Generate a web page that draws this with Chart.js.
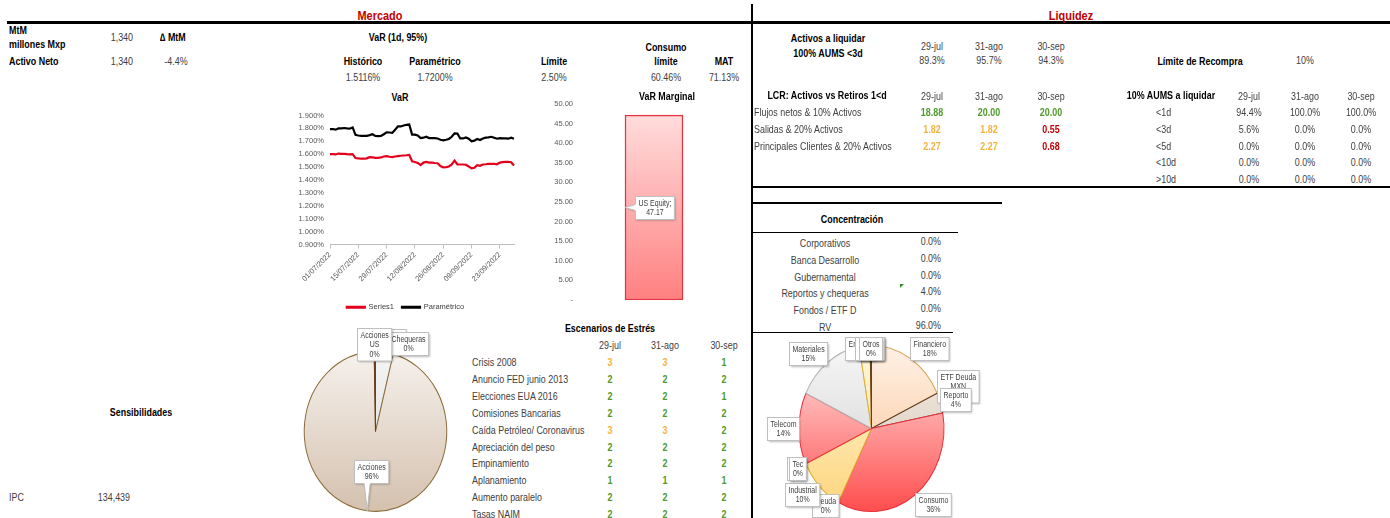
<!DOCTYPE html>
<html lang="es">
<head>
<meta charset="utf-8">
<title>Mercado y Liquidez</title>
<script src="https://cdn.jsdelivr.net/npm/chart.js@4.4.1/dist/chart.umd.min.js"></script>
<style>
  body { margin: 0; background: #fff; }
  #board { position: relative; width: 1390px; height: 518px; overflow: hidden;
    font-family: "Liberation Sans", Arial, sans-serif;
    font-size: 11px; color: #404040; }
  .t { position: absolute; white-space: nowrap; line-height: 14px; transform-origin: left center; transform: scaleX(0.81); }
  .b { font-weight: bold; color: #000; }
  .c { transform-origin: center center; transform: translateX(-50%) scaleX(0.81); }
  .r { transform-origin: right center; transform: translateX(-100%) scaleX(0.81); }
  .h { font-weight: bold; color: #c00000; font-size: 13.5px; }
  .ln { position: absolute; background: #000; }
  canvas { position: absolute; }
  .mark { position: absolute; width: 0; height: 0; border-left: 4px solid #2e8b2e; border-bottom: 4px solid transparent; }
</style>
</head>
<body>
<div id="board">
  <canvas id="chart-var" width="228" height="216" style="left:297px;top:105px"></canvas>
  <canvas id="chart-marginal" width="212" height="216" style="left:538px;top:94px"></canvas>
  <canvas id="chart-mkt-pie" width="180" height="191" style="left:290px;top:327px"></canvas>
  <canvas id="chart-sector-pie" width="250" height="182" style="left:755px;top:336px"></canvas>
</div>
<script>
  const FONT = '"Liberation Sans", Arial, sans-serif';
  const SQ = 0.82; // texto angosto en etiquetas
  const RED = '#e2001a', AXIS = '#bfbfbf', TICK = '#595959';
  const GREEN = '#4e9a2a', ORANGE = '#f4b23e', DARKRED = '#c00000';

  // ---- datos ----
  const varDates = [
    '01/07/2022', '04/07/2022', '05/07/2022', '06/07/2022', '07/07/2022', '08/07/2022', '11/07/2022', '12/07/2022',
    '13/07/2022', '14/07/2022', '15/07/2022', '18/07/2022', '19/07/2022', '20/07/2022', '21/07/2022', '22/07/2022',
    '25/07/2022', '26/07/2022', '27/07/2022', '28/07/2022', '29/07/2022',
    '01/08/2022', '02/08/2022', '03/08/2022', '04/08/2022', '05/08/2022', '08/08/2022', '09/08/2022', '10/08/2022',
    '11/08/2022', '12/08/2022', '15/08/2022', '16/08/2022', '17/08/2022', '18/08/2022', '19/08/2022', '22/08/2022',
    '23/08/2022', '24/08/2022', '25/08/2022', '26/08/2022', '29/08/2022', '30/08/2022', '31/08/2022',
    '01/09/2022', '02/09/2022', '05/09/2022', '06/09/2022', '07/09/2022', '08/09/2022', '09/09/2022', '12/09/2022',
    '13/09/2022', '14/09/2022', '15/09/2022', '16/09/2022', '19/09/2022', '20/09/2022', '21/09/2022', '22/09/2022',
    '23/09/2022', '26/09/2022', '27/09/2022', '28/09/2022', '29/09/2022', '30/09/2022'
  ];
  const varHistorico = [
    1.600, 1.600, 1.598, 1.605, 1.602, 1.603, 1.600, 1.598, 1.600, 1.570,
    1.568, 1.565, 1.565, 1.568, 1.578, 1.575, 1.572, 1.572, 1.575, 1.582,
    1.585, 1.580, 1.578, 1.582, 1.585, 1.588, 1.590, 1.592, 1.595, 1.545,
    1.540, 1.532, 1.515, 1.535, 1.540, 1.535, 1.535, 1.532, 1.530, 1.508,
    1.498, 1.500, 1.505, 1.520, 1.550, 1.520, 1.520, 1.520, 1.518, 1.505,
    1.490, 1.495, 1.515, 1.510, 1.520, 1.522, 1.525, 1.525, 1.525, 1.522,
    1.535, 1.538, 1.540, 1.540, 1.538, 1.512
  ];
  const varParametrico = [
    1.795, 1.795, 1.790, 1.800, 1.800, 1.803, 1.800, 1.798, 1.808, 1.750,
    1.745, 1.742, 1.742, 1.742, 1.748, 1.755, 1.742, 1.740, 1.742, 1.755,
    1.770, 1.768, 1.765, 1.790, 1.815, 1.815, 1.822, 1.828, 1.830, 1.752,
    1.752, 1.745, 1.725, 1.728, 1.735, 1.725, 1.725, 1.725, 1.722, 1.712,
    1.708, 1.712, 1.718, 1.735, 1.762, 1.760, 1.722, 1.722, 1.730, 1.720,
    1.700, 1.705, 1.718, 1.710, 1.722, 1.728, 1.730, 1.735, 1.728, 1.720,
    1.725, 1.722, 1.722, 1.720, 1.728, 1.720
  ];
  const varHeaders = ['Histórico', 'Paramétrico', 'Límite', 'Consumo\nlímite', 'MAT'];
  const varSummary = ['1.5116%', '1.7200%', '2.50%', '60.46%', '71.13%'];

  const marginalLabels = ['US Equity'];
  const marginalValues = [47.17];

  const mktPieLabels = ['Reporto', 'Chequeras', 'Acciones', 'Acciones US'];
  const mktPieValues = [4.0, 0, 95.7, 0.3];

  const liqDates = ['29-jul', '31-ago', '30-sep'];
  const aumsValues = [89.3, 95.7, 94.3];
  const lcrRows = ['Flujos netos & 10% Activos', 'Salidas & 20% Activos', 'Principales Clientes & 20% Activos'];
  const lcrValues = [[18.88, 20.00, 20.00], [1.82, 1.82, 0.55], [2.27, 2.27, 0.68]];
  const plazoRows = ['<1d', '<3d', '<5d', '<10d', '>10d'];
  const plazoValues = [[94.4, 100, 100], [5.6, 0, 0], [0, 0, 0], [0, 0, 0], [0, 0, 0]];

  const concRows = ['Corporativos', 'Banca Desarrollo', 'Gubernamental', 'Reportos y chequeras', 'Fondos / ETF D', 'RV'];
  const concValues = [0, 0, 0, 4.0, 0, 96.0];

  const sectorLabels = ['Fibras', 'Financiero', 'ETF Deuda MXN', 'Reporto', 'Consumo', 'Deuda', 'Industrial',
    'ETF', 'Tec', 'Telecom', 'Materiales', 'Energía', 'Bancos', 'Otros'];
  const sectorValues = [0, 18, 0, 4, 35.6, 0, 10.4, 0, 0, 14, 15.3, 2.4, 0, 0.3];

  const stressRows = ['Crisis 2008', 'Anuncio FED junio 2013', 'Elecciones EUA 2016', 'Comisiones Bancarias',
    'Caída Petróleo/ Coronavirus', 'Apreciación del peso', 'Empinamiento', 'Aplanamiento', 'Aumento paralelo', 'Tasas NAIM'];
  const stressValues = [[3, 3, 1], [2, 2, 2], [2, 2, 1], [2, 2, 2], [3, 3, 2], [2, 2, 2], [2, 2, 2], [1, 1, 1], [2, 2, 2], [2, 2, 2]];

  // ---- estilos de pies ----
  const DK = '#6b3e1e';
  const mktFills = [['#f5f5f5', '#d6d6d6'], '#d9d9d9', ['#f6f1ed', '#d4c1ae'], DK];
  const mktBorders = ['#a6a6a6', '#a6a6a6', '#8c6d3a', DK];
  const sectorFills = [DK, ['#fff1e6', '#f8bf8c'], DK, ['#f3ece5', '#d5c4b3'], ['#ffe6e6', '#ff4d4d'], DK,
    ['#fff8e0', '#fdd47a'], DK, DK, ['#ffe6e6', '#ff4d4d'], ['#f6f6f6', '#cdcdcd'], ['#fff8e0', '#fdd47a'], DK, DK];
  const sectorBorders = [DK, '#d8a458', DK, '#5c3b1e', '#e8323c', DK, '#e0ac2e', DK, DK, '#e8323c', '#b5b5b5', '#e0ac2e', DK, DK];

  // ---- texto html ----
  const board = document.getElementById('board');
  function put(text, x, y, cls) {
    const d = document.createElement('div');
    d.className = 't ' + (cls || '');
    d.style.left = x + 'px';
    d.style.top = (y - 7) + 'px';
    d.textContent = text;
    board.appendChild(d);
    return d;
  }
  function line(x, y, w, h) {
    const d = document.createElement('div');
    d.className = 'ln';
    Object.assign(d.style, { left: x + 'px', top: y + 'px', width: w + 'px', height: h + 'px' });
    board.appendChild(d);
  }
  const pct1 = v => v.toFixed(1) + '%';

  line(7, 21, 1383, 3);
  line(751, 4, 2, 514);
  line(752, 186, 638, 2);
  line(752, 202, 250, 2);
  line(752, 232, 206, 1);
  line(752, 332, 201, 1);

  put('Mercado', 380, 16, 'h c');
  put('Liquidez', 1071, 16, 'h c');

  put('MtM', 9, 30, 'b');
  put('millones Mxp', 9, 44, 'b');
  put('1,340', 133, 37, 'r');
  put('\u2206 MtM', 160, 37, 'b');
  put('Activo Neto', 9, 61, 'b');
  put('1,340', 133, 61, 'r');
  put('-4.4%', 176, 61, 'c');

  put('VaR (1d, 95%)', 398, 37, 'b c');
  const varCols = [363, 435, 554, 666, 724];
  varHeaders.forEach((h, i) => {
    const parts = h.split('\n');
    parts.forEach((p, j) => put(p, varCols[i], 61 - (parts.length - 1 - j) * 14, 'b c'));
    put(varSummary[i], varCols[i], 77, 'c');
  });
  put('VaR', 400, 97, 'b c');
  put('VaR Marginal', 667, 96, 'b c');

  // liquidez
  const liqCols = [932, 989, 1051];
  put('Activos a liquidar', 828, 38, 'b c');
  put('100% AUMS <3d', 828, 53, 'b c');
  liqDates.forEach((d, i) => {
    put(d, liqCols[i], 46, 'c');
    put(pct1(aumsValues[i]), liqCols[i], 60, 'c');
  });
  put('Límite de Recompra', 1200, 61, 'b c');
  put('10%', 1305, 60, 'c');

  put('LCR: Activos vs Retiros 1<d', 827, 95, 'b c');
  liqDates.forEach((d, i) => put(d, liqCols[i], 96, 'c'));
  const lcrColor = v => v >= 10 ? GREEN : v >= 1 ? ORANGE : DARKRED;
  lcrRows.forEach((r, i) => {
    const y = 112 + i * 17;
    put(r, 754, y, '');
    lcrValues[i].forEach((v, j) => {
      const d = put(v.toFixed(2), liqCols[j], y, 'b c');
      d.style.color = lcrColor(v);
    });
  });

  const plazoCols = [1249, 1305, 1361];
  put('10% AUMS a liquidar', 1171, 95, 'b c');
  liqDates.forEach((d, i) => put(d, plazoCols[i], 96, 'c'));
  plazoRows.forEach((r, i) => {
    const y = 112 + i * 16.8;
    put(r, 1156, y, '');
    plazoValues[i].forEach((v, j) => put(pct1(v), plazoCols[j], y, 'c'));
  });

  // concentracion
  put('Concentración', 852, 219, 'b c');
  concRows.forEach((r, i) => {
    const y = 243 + i * 16.8;
    put(r, 825, y, 'c');
    put(pct1(concValues[i]), 941, y - 2, 'r');
  });
  const mk = document.createElement('div');
  mk.className = 'mark';
  mk.style.left = '900px'; mk.style.top = '284px';
  board.appendChild(mk);

  // escenarios
  const stressCols = [610, 665, 724];
  put('Escenarios de Estrés', 610, 328, 'b c');
  liqDates.forEach((d, i) => put(d, stressCols[i], 345, 'c'));
  stressRows.forEach((r, i) => {
    const y = 362 + i * 16.9;
    put(r, 472, y, '');
    stressValues[i].forEach((v, j) => {
      const d = put(String(v), stressCols[j], y, 'b c');
      d.style.color = v >= 3 ? ORANGE : GREEN;
    });
  });

  put('Sensibilidades', 141, 412, 'b c');
  put('IPC', 9, 497, '');
  put('134,439', 130, 497, 'r');

  // ---- chart.js ----
  Chart.defaults.font.family = FONT;
  Chart.defaults.animation = false;
  Chart.defaults.plugins.tooltip.enabled = false;

  const tw = (ctx, s) => ctx.measureText(s).width * SQ;

  function wrap(ctx, text, maxW) {
    const out = [];
    let cur = '';
    for (const w of text.split(' ')) {
      const t = cur ? cur + ' ' + w : w;
      if (cur && tw(ctx, t) > maxW) { out.push(cur); cur = w; } else cur = t;
    }
    out.push(cur);
    return out;
  }

  function boxSize(ctx, lines) {
    return { w: Math.max(...lines.map(l => tw(ctx, l))) + 6, h: lines.length * 9.5 + 4 };
  }

  // etiqueta tipo globo (callout) como en excel
  function callout(ctx, lines, cx, cy, tx, ty, bounds) {
    const { w, h } = boxSize(ctx, lines);
    let x0 = Math.min(Math.max(cx - w / 2, bounds.left), bounds.right - w);
    let y0 = Math.min(Math.max(cy - h / 2, bounds.top), bounds.bottom - h);
    x0 = Math.round(x0) + 0.5;
    y0 = Math.round(y0) + 0.5;
    let tail = null;
    const clamp = (v, a, b) => Math.max(a, Math.min(b, v));
    if (ty > y0 + h + 3) {
      const bx = clamp(tx, x0 + 5, x0 + w - 5);
      tail = [[bx - 3, y0 + h], [tx, ty], [bx + 3, y0 + h]];
    } else if (ty < y0 - 3) {
      const bx = clamp(tx, x0 + 5, x0 + w - 5);
      tail = [[bx - 3, y0], [tx, ty], [bx + 3, y0]];
    } else if (tx < x0 - 3) {
      const by = clamp(ty, y0 + 4, y0 + h - 4);
      tail = [[x0, by - 3], [tx, ty], [x0, by + 3]];
    } else if (tx > x0 + w + 3) {
      const by = clamp(ty, y0 + 4, y0 + h - 4);
      tail = [[x0 + w, by - 3], [tx, ty], [x0 + w, by + 3]];
    }
    ctx.save();
    ctx.shadowColor = 'rgba(0,0,0,0.28)';
    ctx.shadowBlur = 2;
    ctx.shadowOffsetX = 1;
    ctx.shadowOffsetY = 1;
    ctx.fillStyle = '#fff';
    ctx.beginPath();
    ctx.rect(x0, y0, w, h);
    if (tail) { ctx.moveTo(...tail[0]); ctx.lineTo(...tail[1]); ctx.lineTo(...tail[2]); ctx.closePath(); }
    ctx.fill();
    ctx.shadowColor = 'transparent';
    ctx.strokeStyle = '#bfbfbf';
    ctx.lineWidth = 1;
    ctx.strokeRect(x0, y0, w, h);
    if (tail) {
      ctx.beginPath();
      ctx.moveTo(...tail[0]); ctx.lineTo(...tail[1]); ctx.lineTo(...tail[2]);
      ctx.stroke();
      ctx.strokeStyle = '#fff';
      ctx.beginPath();
      ctx.moveTo(tail[0][0], tail[0][1]); ctx.lineTo(tail[2][0], tail[2][1]);
      ctx.stroke();
    }
    ctx.fillStyle = '#404040';
    ctx.textAlign = 'center';
    ctx.textBaseline = 'middle';
    lines.forEach((l, i) => {
      ctx.save();
      ctx.translate(x0 + w / 2, y0 + 2 + 4.75 + i * 9.5);
      ctx.scale(SQ, 1);
      ctx.fillText(l, 0, 0);
      ctx.restore();
    });
    ctx.restore();
  }

  // pie elíptico: escala vertical alrededor del centro
  const ellipse = {
    id: 'ellipse',
    beforeDatasetsDraw(chart, args, opts) {
      const a = chart.chartArea, ctx = chart.ctx;
      const cy = (a.top + a.bottom) / 2;
      ctx.save();
      ctx.translate(0, cy);
      ctx.scale(1, opts.k);
      ctx.translate(0, -cy);
    },
    afterDatasetsDraw(chart) { chart.ctx.restore(); }
  };

  const pieLabels = {
    id: 'pieLabels',
    afterDraw(chart) {
      const ctx = chart.ctx;
      const k = chart.options.plugins.ellipse.k;
      const ds = chart.data.datasets[0];
      const total = ds.data.reduce((a, b) => a + b, 0);
      const bounds = { left: 1, top: 1, right: chart.width - 1, bottom: chart.height - 1 };
      ctx.save();
      ctx.font = '8.5px ' + FONT;
      chart.getDatasetMeta(0).data.forEach((arc, i) => {
        const v = ds.data[i];
        const mid = (arc.startAngle + arc.endAngle) / 2;
        const cos = Math.cos(mid), sin = Math.sin(mid);
        const r = arc.outerRadius;
        const ex = arc.x + r * cos, ey = arc.y + k * r * sin;
        const lines = [...wrap(ctx, chart.data.labels[i], 38), Math.round(v / total * 100) + '%'];
        const { w, h } = boxSize(ctx, lines);
        let cx, cy;
        if (v / total > 0.5) {
          cx = arc.x + 0.5 * r * cos;
          cy = arc.y + 0.5 * k * r * sin;
        } else {
          cx = ex + w / 2 * Math.max(-1, Math.min(1, 3 * cos));
          cy = ey + h / 2 * sin;
        }
        callout(ctx, lines, cx, cy, ex, ey, bounds);
      });
      ctx.restore();
    }
  };

  const barLabels = {
    id: 'barLabels',
    afterDraw(chart) {
      const ctx = chart.ctx;
      const ds = chart.data.datasets[0];
      ctx.save();
      ctx.font = '8.5px ' + FONT;
      chart.getDatasetMeta(0).data.forEach((bar, i) => {
        const cy = (bar.y + bar.base) / 2;
        const lines = [chart.data.labels[i] + ';', ds.data[i].toFixed(2)];
        callout(ctx, lines, bar.x, cy, bar.x - bar.width / 2, cy,
          { left: 0, top: 0, right: chart.width, bottom: chart.height });
      });
      ctx.restore();
    }
  };

  function arcFill(fills) {
    return (c) => {
      const f = fills[c.dataIndex];
      if (f === undefined) return '#ccc';
      const a = c.chart.chartArea;
      if (!Array.isArray(f)) return f;
      if (!a) return f[1];
      const cy = (a.top + a.bottom) / 2, r = c.dataset.radius;
      const g = c.chart.ctx.createLinearGradient(0, cy - r, 0, cy + r);
      g.addColorStop(0, f[0]);
      g.addColorStop(1, f[1]);
      return g;
    };
  }

  new Chart(document.getElementById('chart-var'), {
    type: 'line',
    data: {
      labels: varDates,
      datasets: [
        { label: 'Series1', data: varHistorico, borderColor: RED, backgroundColor: RED, borderWidth: 2.2, pointRadius: 0 },
        { label: 'Paramétrico', data: varParametrico, borderColor: '#000', backgroundColor: '#000', borderWidth: 2.2, pointRadius: 0 },
      ],
    },
    options: {
      responsive: false,
      layout: { padding: { top: 10, right: 11 } },
      plugins: {
        legend: { position: 'bottom', labels: { boxWidth: 18, boxHeight: 1, font: { size: 7.5 }, color: '#404040', padding: 8 } },
      },
      scales: {
        x: {
          grid: { drawOnChartArea: false, tickLength: 4, color: c => c.index % 10 === 0 ? AXIS : 'transparent' },
          border: { color: AXIS },
          ticks: { autoSkip: false, minRotation: 45, maxRotation: 45, font: { size: 7.5 }, color: TICK, padding: 2,
            callback: (v, i) => i % 10 === 0 ? varDates[i] : '' },
          afterFit: s => { s.height = 51; },
        },
        y: {
          min: 0.9, max: 1.9,
          grid: { display: false, drawTicks: false },
          border: { display: false },
          ticks: { stepSize: 0.1, font: { size: 7.5 }, color: TICK, padding: 6, callback: v => v.toFixed(3) + '%' },
          afterFit: s => { s.width = 33; },
        },
      },
    },
  });

  new Chart(document.getElementById('chart-marginal'), {
    type: 'bar',
    data: {
      labels: marginalLabels,
      datasets: [{
        data: marginalValues,
        backgroundColor: c => {
          const a = c.chart.chartArea;
          if (!a) return '#ffb0b0';
          const g = c.chart.ctx.createLinearGradient(0, a.top, 0, a.bottom);
          g.addColorStop(0, '#ffe2e2');
          g.addColorStop(1, '#ff8080');
          return g;
        },
        borderColor: '#e3343f', borderWidth: 1.5, borderSkipped: false, barThickness: 58,
      }],
    },
    options: {
      responsive: false,
      layout: { padding: { top: 10, right: 20, bottom: 10 } },
      plugins: { legend: { display: false } },
      scales: {
        x: { display: false },
        y: {
          min: 0, max: 50,
          grid: { display: false, drawTicks: false },
          border: { display: false },
          ticks: { stepSize: 5, font: { size: 7.5 }, color: TICK, padding: 5, callback: v => v === 0 ? '-' : v.toFixed(2) },
          afterFit: s => { s.width = 40; },
        },
      },
    },
    plugins: [barLabels],
  });

  new Chart(document.getElementById('chart-mkt-pie'), {
    type: 'pie',
    data: {
      labels: mktPieLabels,
      datasets: [{ data: mktPieValues, backgroundColor: arcFill(mktFills), borderColor: mktBorders, borderWidth: 1, radius: 71.3 }],
    },
    options: {
      responsive: false,
      layout: { padding: { top: 18, right: 9 } },
      plugins: { legend: { display: false }, ellipse: { k: 1.12 } },
    },
    plugins: [ellipse, pieLabels],
  });

  new Chart(document.getElementById('chart-sector-pie'), {
    type: 'pie',
    data: {
      labels: sectorLabels,
      datasets: [{ data: sectorValues, backgroundColor: arcFill(sectorFills), borderColor: sectorBorders, borderWidth: 1, radius: 72.5 }],
    },
    options: {
      responsive: false,
      layout: { padding: { top: 3, right: 17 } },
      plugins: { legend: { display: false }, ellipse: { k: 1.145 } },
    },
    plugins: [ellipse, pieLabels],
  });
</script>
</body>
</html>
